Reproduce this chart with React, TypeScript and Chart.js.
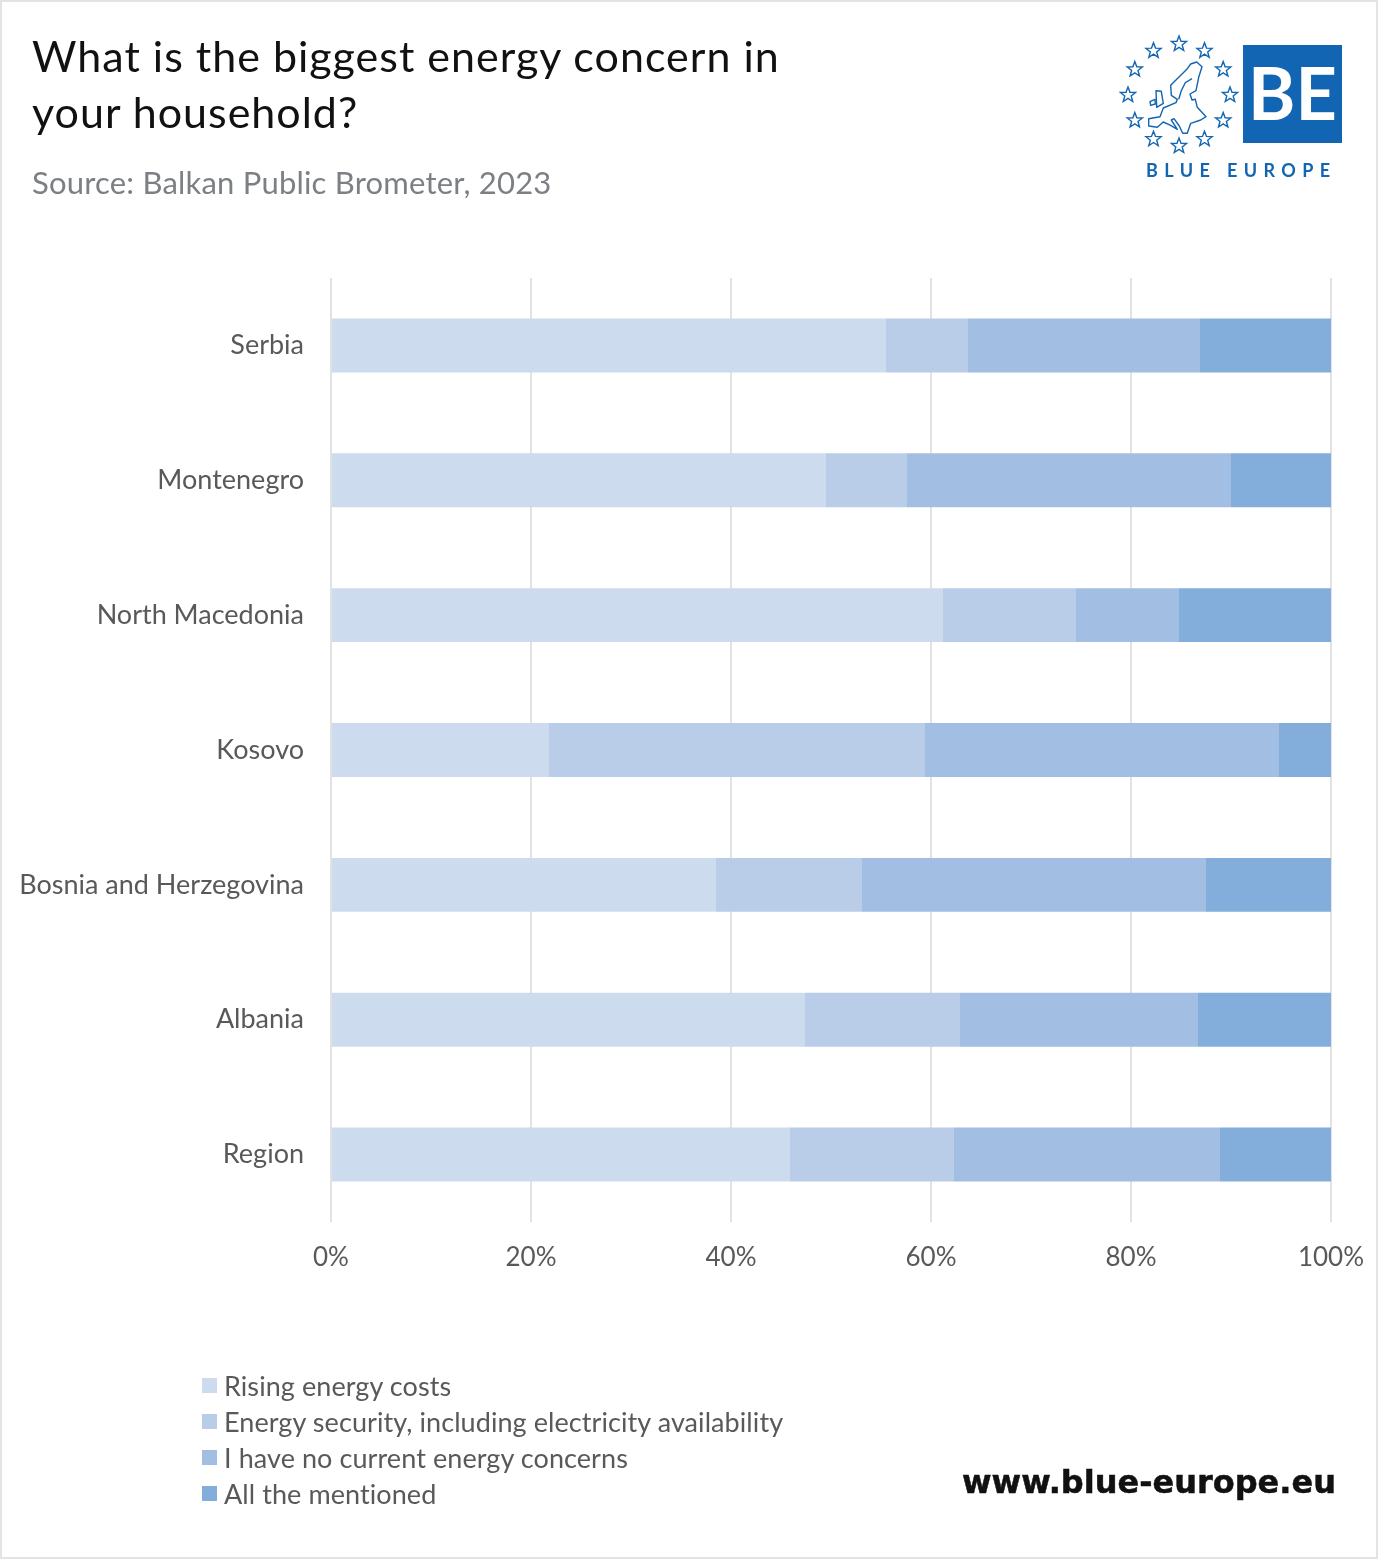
import React, { useEffect, useRef } from "react";
import { Chart, registerables } from "chart.js";

Chart.register(...registerables);

const categories = ["Serbia", "Montenegro", "North Macedonia", "Kosovo", "Bosnia and Herzegovina", "Albania", "Region"];
const risingCosts = [55.5, 49.5, 61.2, 21.8, 38.5, 47.4, 45.9];
const energySecurity = [8.2, 8.1, 13.3, 37.6, 14.6, 15.5, 16.4];
const noConcerns = [23.2, 32.4, 10.3, 35.4, 34.4, 23.8, 26.6];
const allMentioned = [13.1, 10.0, 15.2, 5.2, 12.5, 13.3, 11.1];
const seriesNames = ["Rising energy costs", "Energy security, including electricity availability", "I have no current energy concerns", "All the mentioned"];
const seriesColors = ["#cddbee", "#b9cde8", "#a2bee2", "#83aedb"];
const seriesValues = [risingCosts, energySecurity, noConcerns, allMentioned];

const FONT = "Lato, 'Noto Sans', sans-serif";
const BLUE = "#1265b2";

function star(cx: number, cy: number, r: number) {
  const pts: string[] = [];
  for (let i = 0; i < 10; i++) {
    const rr = i % 2 === 0 ? r : r * 0.42;
    const a = -Math.PI / 2 + (i * Math.PI) / 5;
    pts.push(`${(cx + rr * Math.cos(a)).toFixed(1)},${(cy + rr * Math.sin(a)).toFixed(1)}`);
  }
  return pts.join(" ");
}

function Logo() {
  const stars = Array.from({ length: 12 }, (_, i) => {
    const a = (i * Math.PI) / 6;
    return [1179 + 51 * Math.sin(a), 95 - 51 * Math.cos(a)];
  });
  const o = (pts: number[][]) => pts.map(([x, y]) => `${(1100 + x / 3).toFixed(1)},${(20 + y / 3).toFixed(1)}`).join(" ");
  const outline = [[290,126],[306,140],[296,172],[288,212],[270,222],[276,240],[286,238],[292,262],[318,290],[302,300],[272,310],[262,340],[248,340],[238,318],[222,296],[214,300],[232,328],[212,316],[190,306],[172,322],[146,318],[146,296],[180,290],[190,264],[228,248],[232,238],[214,226],[212,196],[240,168],[262,146],[272,132]];
  const inner = [[276,176],[256,188],[244,212],[236,238]];
  const uk = [[168,212],[184,214],[190,250],[170,262]];
  const ie = [[150,245],[165,238],[166,252],[152,256]];
  return (
    <svg width={1378} height={200} style={{ position: "absolute", left: 0, top: 0 }}>
      {stars.map(([x, y], i) => (
        <polygon key={i} points={star(x, y, 8)} fill="none" stroke={BLUE} strokeWidth={1.4} />
      ))}
      {[outline, uk, ie].map((p, i) => (
        <polygon key={i} points={o(p)} fill="none" stroke={BLUE} strokeWidth={1.4} strokeLinejoin="round" />
      ))}
      <polyline points={o(inner)} fill="none" stroke={BLUE} strokeWidth={1.4} />
      <rect x={1243} y={45} width={99} height={98} fill={BLUE} />
      <text x={1292.5} y={120} textAnchor="middle" fill="#fff" fontFamily={FONT} fontWeight={700} fontSize={72}>BE</text>
      <text x={1146} y={177} fill={BLUE} fontFamily={FONT} fontWeight={700} fontSize={18} letterSpacing={6.4}>BLUE EUROPE</text>
    </svg>
  );
}

export default function App() {
  const ref = useRef<HTMLCanvasElement | null>(null);
  useEffect(() => {
    document.body.style.margin = "0";
    document.body.style.background = "#fff";
    const chart = new Chart(ref.current!, {
      type: "bar",
      data: {
        labels: categories,
        datasets: seriesNames.map((label, i) => ({
          label,
          data: seriesValues[i],
          backgroundColor: seriesColors[i],
          borderWidth: 0,
          barPercentage: 1,
          categoryPercentage: 0.4,
        })),
      },
      options: {
        indexAxis: "y",
        responsive: false,
        animation: false,
        devicePixelRatio: 1,
        layout: { padding: { left: 0, right: 47, top: 278, bottom: 0 } },
        plugins: { legend: { display: false }, tooltip: { enabled: false } },
        scales: {
          x: {
            stacked: true,
            min: 0,
            max: 100,
            afterFit: (s: any) => { s.height = 337; s.paddingLeft = 0; s.paddingRight = 0; },
            border: { display: false },
            grid: { color: "#e2e2e2", lineWidth: 2, drawTicks: false },
            ticks: {
              stepSize: 20,
              maxRotation: 0,
              padding: 20,
              color: "#595959",
              font: { family: FONT, size: 26 },
              callback: (v: any) => `${v}%`,
            },
          },
          y: {
            stacked: true,
            afterFit: (s: any) => { s.width = 331; },
            border: { display: false },
            grid: { display: false, drawTicks: false },
            ticks: { padding: 27, color: "#595959", font: { family: FONT, size: 27 } },
          },
        },
      },
    } as any);
    return () => chart.destroy();
  }, []);

  return (
    <div style={{ position: "relative", width: 1378, height: 1559, background: "#fff", overflow: "hidden", fontFamily: FONT }}>
      <canvas ref={ref} width={1378} height={1559} style={{ position: "absolute", left: 0, top: 0, display: "block" }} />
      <div style={{ position: "absolute", left: 32, top: 28, fontSize: 43, lineHeight: "56px", letterSpacing: 1, color: "#111", whiteSpace: "nowrap" }}>
        What is the biggest energy concern in<br />your household?
      </div>
      <div style={{ position: "absolute", left: 32, top: 163, fontSize: 31, lineHeight: "38px", letterSpacing: 0.2, color: "#7c8084", whiteSpace: "nowrap" }}>
        Source: Balkan Public Brometer, 2023
      </div>
      <Logo />
      <div style={{ position: "absolute", left: 202, top: 1368 }}>
        {seriesNames.map((n, i) => (
          <div key={n} style={{ display: "flex", alignItems: "center", height: 35.8, fontSize: 27, letterSpacing: 0.08, color: "#595959", whiteSpace: "nowrap" }}>
            <span style={{ width: 15, height: 15, background: seriesColors[i], marginRight: 7, flex: "none" }} />
            {n}
          </div>
        ))}
      </div>
      <div style={{ position: "absolute", left: 962, top: 1460, fontFamily: "'DejaVu Sans', sans-serif", fontWeight: 700, fontSize: 32, lineHeight: "44px", color: "#111", whiteSpace: "nowrap", WebkitTextStroke: "0.5px #111" }}>
        www.blue-europe.eu
      </div>
      <div style={{ position: "absolute", inset: 0, border: "2px solid #e3e3e3", pointerEvents: "none" }} />
    </div>
  );
}
